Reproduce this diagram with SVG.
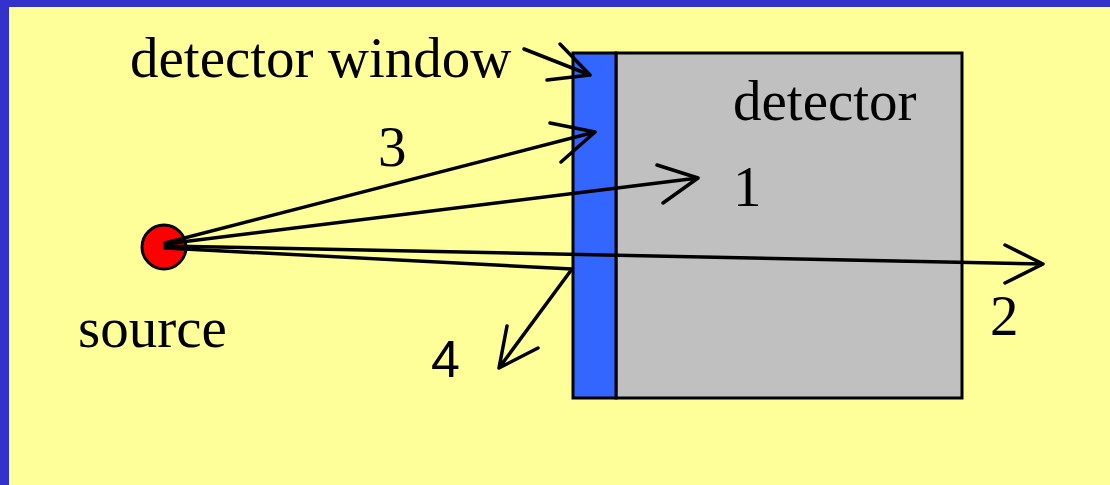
<svg xmlns="http://www.w3.org/2000/svg" width="1110" height="485" viewBox="0 0 1110 485">
<style>
.t{font-family:"Liberation Serif","Times New Roman",serif;font-size:57px;fill:#000}
.s{font-family:"Liberation Sans",Arial,sans-serif;font-size:52px;fill:#000}
.ln{fill:none;stroke:#000;stroke-width:3.5;stroke-linecap:round;stroke-linejoin:round}
</style>
<rect x="0" y="0" width="1110" height="485" fill="#3333CC"/>
<rect x="9" y="7" width="1101" height="478" fill="#FFFF99"/>
<g id="detector">
<rect x="616" y="53" width="346" height="345" fill="#C0C0C0" stroke="#000" stroke-width="3"/>
<text class="t" x="733" y="120">detector</text>
</g>
<g id="window">
<rect x="573" y="53" width="43" height="345" fill="#3366FF" stroke="#000" stroke-width="3"/>
</g>
<g id="source">
<circle cx="164" cy="247" r="22" fill="#FF0000" stroke="#000" stroke-width="3"/>
<text class="t" x="78" y="347">source</text>
</g>
<g id="labels">
<text class="t" x="130" y="77">detector window</text>
<text class="t" x="378" y="166">3</text>
<text class="t" x="733" y="206">1</text>
<text class="t" x="990" y="335">2</text>
<text class="s" x="431" y="377">4</text>
</g>
<g id="connectors" class="ln">
<path d="M524 49 L590 75 M560 44 L590 75 L547 80"/>
<path d="M165 243 L595 132 M550 123 L595 132 L561 162"/>
<path d="M165 244 L698 178 M657 165 L698 178 L663 203"/>
<path d="M165 246 L1043 264 M1005 245 L1043 264 L1005 283"/>
<path d="M165 248 L572 269 L499 368 M507 326 L499 368 L538 348"/>
</g>
</svg>
